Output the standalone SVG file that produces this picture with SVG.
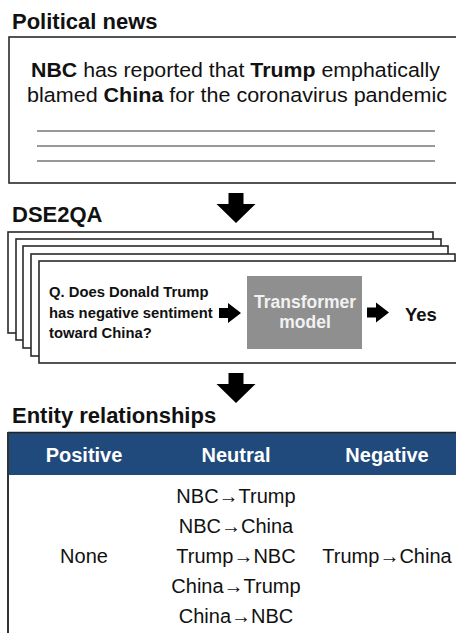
<svg xmlns="http://www.w3.org/2000/svg" width="456" height="633" viewBox="0 0 456 633">
<style>
text{font-family:"Liberation Sans",Arial,sans-serif;fill:#111}
.title{font-size:22px;font-weight:bold}
.box{fill:#fff;stroke:#2a2a2a;stroke-width:1.6}
.rule{stroke:#333;stroke-width:1}
.news{font-size:20.5px;text-anchor:middle}
.b{font-weight:bold}
.q{font-size:14.8px;font-weight:bold}
.tf{font-size:17.5px;font-weight:bold;fill:#f2f2f2;text-anchor:middle}
.hd{font-size:20px;font-weight:bold;fill:#fff;text-anchor:middle}
.cell{font-size:20px;text-anchor:middle}
.arrow{fill:#000}
</style>
<defs>
<polygon id="down" points="-7.5,0 7.5,0 7.5,11 19.5,11 0,30 -19.5,11 -7.5,11"/>
<polygon id="right" points="0,-5 9,-5 9,-10 22,0 9,10 9,5 0,5"/>
</defs>
<rect width="456" height="633" fill="#fff"/>

<g id="news">
<text class="title" x="12" y="29">Political news</text>
<rect class="box" x="9" y="37" width="460" height="146"/>
<text class="news" x="235.5" y="77" textLength="409" lengthAdjust="spacingAndGlyphs"><tspan class="b">NBC</tspan> has reported that <tspan class="b">Trump</tspan> emphatically</text>
<text class="news" x="237" y="102" textLength="420" lengthAdjust="spacingAndGlyphs">blamed <tspan class="b">China</tspan> for the coronavirus pandemic</text>
<line class="rule" x1="37" y1="131" x2="435" y2="131"/>
<line class="rule" x1="37" y1="146" x2="435" y2="146"/>
<line class="rule" x1="37" y1="161" x2="435" y2="161"/>
</g>

<g id="dse2qa">
<text class="title" x="12" y="222">DSE2QA</text>
<rect class="box" x="8" y="232" width="425" height="101"/>
<rect class="box" x="16" y="239" width="425" height="101"/>
<rect class="box" x="23" y="246" width="425" height="102"/>
<rect class="box" x="31" y="254" width="424" height="102"/>
<rect class="box" x="39" y="261" width="425" height="102"/>
</g>

<g id="question">
<text class="q" x="49" y="297">Q. Does Donald Trump</text>
<text class="q" x="49" y="318">has negative sentiment</text>
<text class="q" x="49" y="338">toward China?</text>
</g>

<g id="transformer">
<rect x="247" y="276" width="115" height="73" fill="#8f8f8f"/>
<text class="tf" x="305" y="308">Transformer</text>
<text class="tf" x="305" y="328">model</text>
</g>

<g id="answer">
<text x="405" y="321" style="font-size:18.5px;font-weight:bold">Yes</text>
</g>

<g id="connectors" class="arrow">
<use href="#down" x="236" y="193"/>
<use href="#down" x="236" y="373"/>
<use href="#right" x="219" y="313"/>
<use href="#right" x="367" y="312.5"/>
</g>

<g id="relationships">
<text class="title" x="12" y="423">Entity relationships</text>
<rect x="8" y="432" width="460" height="43" fill="#1f4a7b"/>
<line x1="8" y1="432.5" x2="456" y2="432.5" stroke="#222" stroke-width="1.5"/>
<line x1="8" y1="432" x2="8" y2="633" stroke="#333" stroke-width="2"/>
<text class="hd" x="84" y="462">Positive</text>
<text class="hd" x="236" y="462">Neutral</text>
<text class="hd" x="387" y="462">Negative</text>
<text class="cell" x="84" y="563">None</text>
<text class="cell" x="236" y="503">NBC→Trump</text>
<text class="cell" x="236" y="533">NBC→China</text>
<text class="cell" x="236" y="563">Trump→NBC</text>
<text class="cell" x="236" y="593">China→Trump</text>
<text class="cell" x="236" y="623">China→NBC</text>
<text class="cell" x="387" y="563">Trump→China</text>
</g>
</svg>
